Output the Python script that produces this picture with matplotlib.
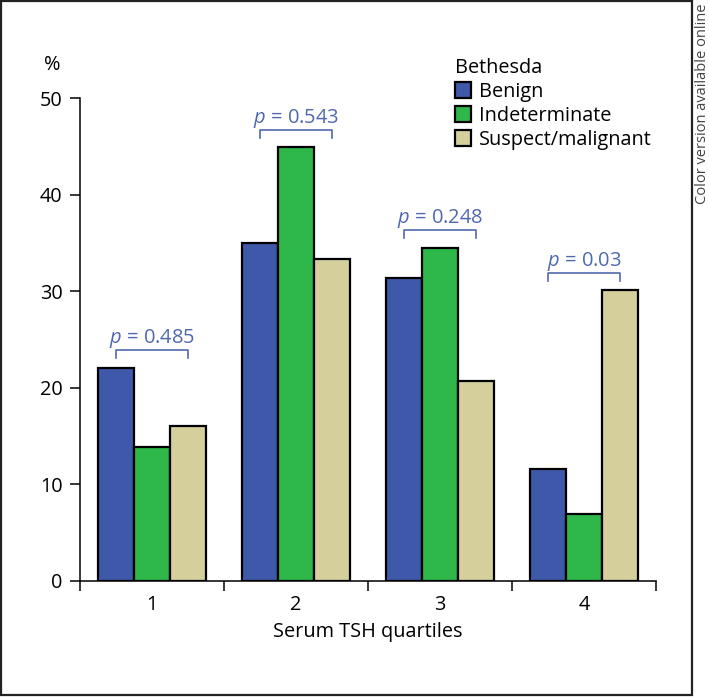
import matplotlib
matplotlib.use("Agg")
import matplotlib.pyplot as plt
import numpy as np
from matplotlib.patches import Rectangle

plt.rcParams['font.family'] = ['Open Sans', 'DejaVu Sans']
plt.rcParams['mathtext.fontset'] = 'custom'
plt.rcParams['mathtext.rm'] = 'Open Sans'
plt.rcParams['mathtext.it'] = 'Open Sans:italic'

# data
quartiles = ['1', '2', '3', '4']
benign = [22.1, 35.0, 31.4, 11.6]
indeterminate = [13.9, 44.9, 34.5, 6.9]
suspect = [16.0, 33.3, 20.7, 30.1]
p_values = ['0.485', '0.543', '0.248', '0.03']
series_names = ['Benign', 'Indeterminate', 'Suspect/malignant']

colors = ['#3F58AA', '#2EB84A', '#D4CF9B']
note_color = '#5068B0'

fig = plt.figure(figsize=(7.09, 6.97), dpi=100)
ax = fig.add_axes([80 / 709, 1 - 581 / 697, 576 / 709, 483 / 697])

x = np.arange(len(quartiles))
w = 0.248
for i, (vals, name) in enumerate(zip([benign, indeterminate, suspect], series_names)):
    ax.bar(x + (i - 1) * w, vals, width=w, color=colors[i], edgecolor='black',
           linewidth=1.6, label=name, zorder=3)

# p-value brackets
for i, p in enumerate(p_values):
    top = max(benign[i], indeterminate[i], suspect[i]) + 1.8
    xl, xr = x[i] - w, x[i] + w
    ax.plot([xl, xl, xr, xr], [top - 0.8, top, top, top - 0.8], color=note_color,
            lw=1.2, clip_on=False, zorder=4)
    ax.text(x[i], top + 0.75, '$p$ = ' + p, color=note_color, fontsize=14.5,
            ha='center', va='baseline')

ax.set_xlim(-0.5, 3.5)
ax.set_ylim(0, 50)
ax.set_yticks([0, 10, 20, 30, 40, 50])
ax.set_xticks([-0.5, 0.5, 1.5, 2.5, 3.5])
ax.set_xticklabels([])
ax.set_xticks(x, minor=True)
ax.set_xticklabels(quartiles, minor=True)
ax.tick_params(axis='x', which='major', length=7, width=1.1, direction='out')
ax.tick_params(axis='x', which='minor', length=0, pad=10, labelsize=14.3)
ax.tick_params(axis='y', length=7.5, width=1.1, pad=5, labelsize=14.3)
for s in ['top', 'right']:
    ax.spines[s].set_visible(False)
for s in ['left', 'bottom']:
    ax.spines[s].set_linewidth(1.1)

ax.set_xlabel('Serum TSH quartiles', fontsize=14.3, labelpad=5)
fig.text(52 / 709, 1 - 65 / 697, '%', fontsize=14.3, ha='center', va='center')

leg = fig.legend(loc='upper left', bbox_to_anchor=(455 / 709, 1 - 58 / 697),
                 title='Bethesda', alignment='left', frameon=False, fontsize=14.3,
                 title_fontsize=14.3, handlelength=0.8, handleheight=0.8,
                 handletextpad=0.4, labelspacing=0.2, borderpad=0, borderaxespad=0)

# outer frame and side note
fig.patches.append(Rectangle((1 / 709, 2 / 697), 691 / 709, 694 / 697,
                             transform=fig.transFigure, fill=False,
                             edgecolor='#222222', linewidth=1.6))
fig.text(703 / 709, 1 - 104 / 697, 'Color version available online', rotation=90,
         fontsize=10.5, color='#444444', ha='center', va='center')

fig.savefig('out.png', dpi=100)
